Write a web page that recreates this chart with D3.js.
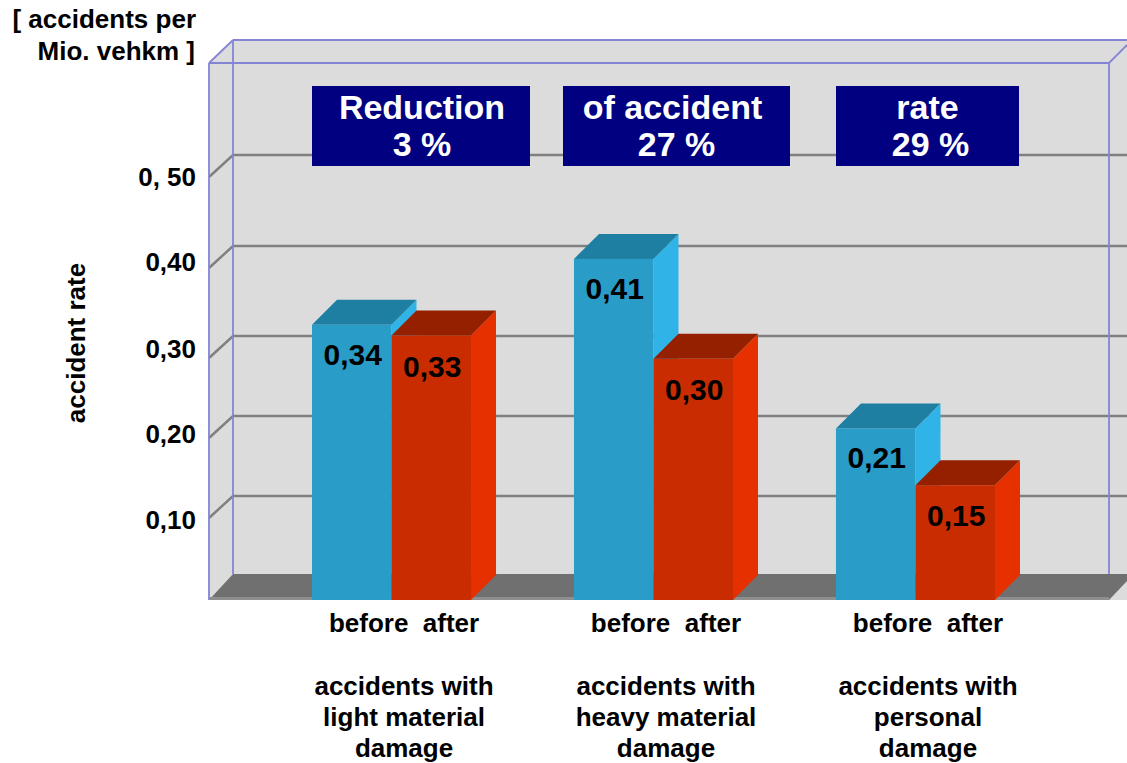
<!DOCTYPE html>
<html>
<head>
<meta charset="utf-8">
<script src="https://d3js.org/d3.v7.min.js"></script>
<style>
html, body { margin: 0; padding: 0; background: #fff; }
svg { display: block; }
text { font-family: "Liberation Sans", Arial, sans-serif; font-weight: bold; fill: #000; }
</style>
</head>
<body>
<div id="chart"></div>
<script>
// values
var groups = ["light", "heavy", "personal"];
var series = ["before", "after"];
// the bars are drawn a little off their printed labels, so heights and labels are kept apart
var before_heights = [0.337, 0.41, 0.212];
var after_heights = [0.325, 0.299, 0.141];
var before_labels = ["0,34", "0,41", "0,21"];
var after_labels = ["0,33", "0,30", "0,15"];
var tick_values = [0.1, 0.2, 0.3, 0.4, 0.5];
var tick_labels = ["0,10", "0,20", "0,30", "0,40", "0, 50"];
var banner_top = ["Reduction", "of accident", "rate"];
var banner_bottom = ["3 %", "27 %", "29 %"];
var group_lines = [
    ["accidents with", "light material", "damage"],
    ["accidents with", "heavy material", "damage"],
    ["accidents with", "personal", "damage"]
];

var width = 1127, height = 763;
var left = 209, right = 1109, top_y = 63, base = 600;
var depth_x = 24, frame_depth = 23, grid_depth = 22, floor_depth = 26;
var bar_depth = 25;
var BEFORE = { front: "#2a9cc8", top: "#1f7fa2", side: "#30b3e6" };
var AFTER = { front: "#c82c00", top: "#952000", side: "#e63000" };

var svg = d3.select("#chart").append("svg")
    .attr("width", width)
    .attr("height", height);

// the grid in the source is not evenly spaced, so the scale has a stop per tick
var y = d3.scaleLinear()
    .domain([0, 0.1, 0.2, 0.3, 0.4, 0.5])
    .range([base, 518, 438, 358, 268, 177]);

// tick labels do not sit exactly on their grid lines either
var y_label = d3.scaleLinear()
    .domain(tick_values)
    .range([528, 442, 357, 270, 185]);

var x_group = d3.scaleBand()
    .domain(groups)
    .range([312, 995])
    .paddingInner(0.393);

var x_bar = d3.scaleBand()
    .domain(series)
    .range([0, x_group.bandwidth()]);

function points(list) {
    return list.map(function (p) { return p[0] + "," + p[1]; }).join(" ");
}

// walls
svg.append("polygon")
    .attr("points", points([[left, top_y], [left + depth_x, top_y - frame_depth], [width, top_y - frame_depth],
        [width, base], [left, base]]))
    .attr("fill", "#dcdcdc");

// floor
svg.append("polygon")
    .attr("points", points([[left, base], [left + depth_x, base - floor_depth], [width, base - floor_depth],
        [width, base - 19], [right, base]]))
    .attr("fill", "#707070");
svg.append("line")
    .attr("x1", left).attr("y1", base - 1.5).attr("x2", right).attr("y2", base - 1.5)
    .attr("stroke", "#8e8e8e").attr("stroke-width", 3);

// grid lines run along the side wall and then the back wall
tick_values.forEach(function (v) {
    svg.append("polyline")
        .attr("points", points([[left, y(v)], [left + depth_x, y(v) - grid_depth], [width, y(v) - grid_depth]]))
        .attr("fill", "none")
        .attr("stroke", "#808080")
        .attr("stroke-width", 2.5);
});

// blue frame
var frame = [
    [left, top_y, right, top_y],
    [left, top_y, left, base],
    [right, top_y, right, base - floor_depth],
    [left + depth_x, top_y - frame_depth, left + depth_x, base - floor_depth],
    [left, top_y, left + depth_x, top_y - frame_depth],
    [left + depth_x, top_y - frame_depth, width, top_y - frame_depth],
    [right, top_y, width, top_y - 18]
];
frame.forEach(function (f) {
    svg.append("line")
        .attr("x1", f[0]).attr("y1", f[1]).attr("x2", f[2]).attr("y2", f[3])
        .attr("stroke", "#8484d6")
        .attr("stroke-width", 1.8);
});

function draw_bar(x0, w, h, colors) {
    var g = svg.append("g");
    var y0 = y(h);
    g.append("polygon")
        .attr("points", points([[x0 + w, y0], [x0 + w + bar_depth, y0 - bar_depth],
            [x0 + w + bar_depth, base - bar_depth], [x0 + w, base]]))
        .attr("fill", colors.side);
    g.append("polygon")
        .attr("points", points([[x0, y0], [x0 + bar_depth, y0 - bar_depth],
            [x0 + w + bar_depth, y0 - bar_depth], [x0 + w, y0]]))
        .attr("fill", colors.top);
    g.append("rect")
        .attr("x", x0).attr("y", y0)
        .attr("width", w).attr("height", base - y0)
        .attr("fill", colors.front);
}

groups.forEach(function (g, i) {
    var gx = x_group(g);
    var w = x_bar.bandwidth();
    draw_bar(gx + x_bar("before"), w, before_heights[i], BEFORE);
    draw_bar(gx + x_bar("after"), w, after_heights[i], AFTER);

    svg.append("text")
        .attr("x", gx + x_bar("before") + w / 2 + 1)
        .attr("y", y(before_heights[i]) + 40)
        .attr("text-anchor", "middle")
        .style("font-size", "30px")
        .text(before_labels[i]);
    svg.append("text")
        .attr("x", gx + x_bar("after") + w / 2 + 1)
        .attr("y", y(after_heights[i]) + 41)
        .attr("text-anchor", "middle")
        .style("font-size", "30px")
        .text(after_labels[i]);

    // category labels under the bars
    svg.append("text")
        .attr("x", gx + x_group.bandwidth() / 2 + 12.5)
        .attr("y", 632)
        .attr("text-anchor", "middle")
        .style("white-space", "pre")
        .style("font-size", "26px")
        .text("before  after");
    // the last line's descender touches the bottom edge in the source as well
    group_lines[i].forEach(function (line, n) {
        svg.append("text")
            .attr("x", gx + x_group.bandwidth() / 2 + 12.5)
            .attr("y", 695 + n * 31)
            .attr("text-anchor", "middle")
            .style("font-size", "26px")
            .text(line);
    });
});

// banners across the top, widths follow the source
var banner_x = d3.scaleOrdinal().domain(groups).range([312, 563, 836]);
var banner_w = d3.scaleOrdinal().domain(groups).range([218, 227, 183]);
var top_shift = d3.scaleOrdinal().domain(groups).range([0, -5, -1]);
var bottom_shift = d3.scaleOrdinal().domain(groups).range([0, -1, 2]);
groups.forEach(function (g, i) {
    var mid = banner_x(g) + banner_w(g) / 2 + 1;
    svg.append("rect")
        .attr("x", banner_x(g)).attr("y", 86)
        .attr("width", banner_w(g)).attr("height", 80)
        .attr("fill", "#000080");
    svg.append("text")
        .attr("x", mid + top_shift(g))
        .attr("y", 119)
        .attr("text-anchor", "middle")
        .style("font-size", "34px")
        .style("fill", "#fff")
        .text(banner_top[i]);
    svg.append("text")
        .attr("x", mid + bottom_shift(g))
        .attr("y", 156)
        .attr("text-anchor", "middle")
        .style("font-size", "34px")
        .style("fill", "#fff")
        .text(banner_bottom[i]);
});

// y axis, labels only
var axis = d3.axisLeft(y_label)
    .tickValues(tick_values)
    .tickSize(0)
    .tickPadding(0)
    .tickFormat(function (d, i) { return tick_labels[i]; });
var axis_g = svg.append("g")
    .attr("transform", "translate(196,0)")
    .call(axis);
axis_g.select(".domain").remove();
axis_g.selectAll("text")
    .attr("dy", "0")
    .attr("x", 0)
    .style("font-family", '"Liberation Sans", Arial, sans-serif')
    .style("font-size", "26px");

svg.append("text")
    .attr("transform", "translate(85,343) rotate(-90)")
    .attr("text-anchor", "middle")
    .style("font-size", "26px")
    .text("accident rate");

svg.append("text")
    .attr("x", 196).attr("y", 28)
    .attr("text-anchor", "end")
    .style("font-size", "26px")
    .text("[ accidents per");
svg.append("text")
    .attr("x", 195).attr("y", 60)
    .attr("text-anchor", "end")
    .style("font-size", "26px")
    .text("Mio. vehkm ]");
</script>
</body>
</html>
